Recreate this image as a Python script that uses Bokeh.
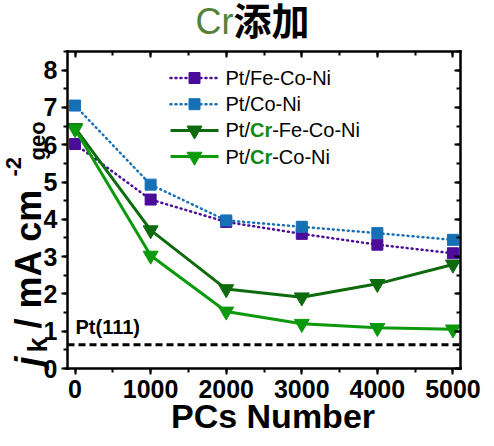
import math

from bokeh.plotting import figure
from bokeh.models import Range1d, LinearAxis, SingleIntervalTicker, Label
from bokeh.embed import file_html
from bokeh.resources import INLINE

# ---- data: kinetic current density vs. number of potential cycles ----
cycles = [0, 1000, 2000, 3000, 4000, 5000]
jk_fe_co_ni = [6.02, 4.53, 3.93, 3.61, 3.32, 3.09]
jk_co_ni = [7.05, 4.93, 3.97, 3.80, 3.63, 3.45]
jk_cr_fe_co_ni = [6.45, 3.71, 2.13, 1.91, 2.27, 2.79]
jk_cr_co_ni = [6.42, 3.03, 1.53, 1.20, 1.09, 1.05]
jk_pt111 = 0.64

series_names = ["Pt/Fe-Co-Ni", "Pt/Co-Ni", "Pt/Cr-Fe-Co-Ni", "Pt/Cr-Co-Ni"]

# axis limits of the plot box
X_MIN, X_MAX = -100, 5100
Y_MIN, Y_MAX = 0, 8.5

# ---- styling ----
PURPLE = "#4b0c9a"
BLUE = "#1570b6"
DARK_GREEN = "#0d6a0d"
LIGHT_GREEN = "#0c9a0c"
CR_GREEN = "#138a13"
TITLE_GREEN = "#548235"
SANS = "Liberation Sans"
TITLE_FONT = "Liberation Sans, Noto Sans CJK SC"

# canvas size and plot-box placement (pixels, from top-left)
W, H = 494, 446
BOX_L, BOX_R, BOX_T, BOX_B = 67, 460, 51, 368

# The frame covers the whole canvas; the ranges are stretched so the data box
# lands on BOX_*, and the axes are pinned to the box edges with fixed_location.
xpx = (BOX_R - BOX_L) / (X_MAX - X_MIN)
ypx = (BOX_B - BOX_T) / (Y_MAX - Y_MIN)
x_range = Range1d(X_MIN - BOX_L / xpx, X_MAX + (W - BOX_R) / xpx)
y_range = Range1d(Y_MIN - (H - BOX_B) / ypx, Y_MAX + BOX_T / ypx)

p = figure(width=W, height=H, output_backend="svg", toolbar_location=None,
           title=None, x_range=x_range, y_range=y_range, min_border=0)
p.grid.visible = False
p.background_fill_color = "white"
p.border_fill_color = "white"
p.outline_line_color = None

# pixel-space ranges (origin bottom-left of canvas) for the hand-built legend
p.extra_x_ranges = {"px": Range1d(0, W)}
p.extra_y_ranges = {"px": Range1d(0, H)}


def style_axis(ax, outside=True, labels=True):
    ax.axis_line_width = 2.5
    ax.axis_line_color = "black"
    ax.axis_line_cap = "square"
    ax.major_tick_line_width = 2
    ax.minor_tick_line_width = 2
    ax.major_tick_line_color = "black"
    ax.minor_tick_line_color = "black"
    if outside:
        ax.major_tick_out, ax.major_tick_in = 6, 0
        ax.minor_tick_out, ax.minor_tick_in = 4, 0
    else:
        ax.major_tick_out, ax.major_tick_in = 0, 6
        ax.minor_tick_out, ax.minor_tick_in = 0, 4
    ax.major_label_text_font = SANS
    ax.major_label_text_font_style = "bold"
    ax.major_label_text_font_size = "25px"
    ax.major_label_text_color = "black" if labels else None


xa = p.xaxis[0]
xa.ticker = SingleIntervalTicker(interval=1000, num_minor_ticks=2)
xa.fixed_location = Y_MIN
xa.bounds = (X_MIN, X_MAX)
style_axis(xa)
xa.major_label_standoff = 5

ya = p.yaxis[0]
ya.ticker = SingleIntervalTicker(interval=1, num_minor_ticks=2)
ya.fixed_location = X_MIN
ya.bounds = (Y_MIN, Y_MAX)
style_axis(ya)
ya.major_label_standoff = 4

# mirrored box edges: ticks only, pointing inwards
top_ax = LinearAxis(ticker=SingleIntervalTicker(interval=1000, num_minor_ticks=2),
                    fixed_location=Y_MAX, bounds=(X_MIN, X_MAX))
style_axis(top_ax, outside=False, labels=False)
p.add_layout(top_ax, "above")

right_ax = LinearAxis(ticker=SingleIntervalTicker(interval=1, num_minor_ticks=2),
                      fixed_location=X_MAX, bounds=(Y_MIN, Y_MAX))
style_axis(right_ax, outside=False, labels=False)
p.add_layout(right_ax, "right")


def canvas_label(cx, cy, text, **kw):
    """Label centred vertically on a canvas pixel position (top-left origin)."""
    opts = dict(text_font=SANS, text_color="black", text_baseline="middle")
    opts.update(kw)
    p.add_layout(Label(x=cx, y=H - cy, x_units="screen", y_units="screen",
                       text=text, **opts))


# ---- Pt(111) reference level ----
p.segment(x0=[X_MIN], x1=[X_MAX], y0=[jk_pt111], y1=[jk_pt111],
          line_color="black", line_width=3, line_dash="7 4")
canvas_label(75, 326, "Pt(111)", text_font_style="bold", text_font_size="20px")

# ---- series ----
series = [
    (series_names[0], jk_fe_co_ni, PURPLE, "square", 11, "dotted"),
    (series_names[1], jk_co_ni, BLUE, "square", 11, "dotted"),
    (series_names[2], jk_cr_fe_co_ni, DARK_GREEN, "inverted_triangle", 15, "solid"),
    (series_names[3], jk_cr_co_ni, LIGHT_GREEN, "inverted_triangle", 15, "solid"),
]


def draw_line(xs, ys, color, kind, **kw):
    if kind == "dotted":
        p.line(xs, ys, line_color=color, line_width=2.5, line_dash="1 4",
               line_cap="round", **kw)
    else:
        p.line(xs, ys, line_color=color, line_width=3, **kw)


for name, ys, color, marker, size, kind in series:
    draw_line(cycles, ys, color, kind)
    p.scatter(cycles, ys, marker=marker, size=size, fill_color=color,
              line_color=color, line_width=1)

# ---- legend ----
row0, row_step = 77.5, 26.2
for i, (name, ys, color, marker, size, kind) in enumerate(series):
    cy = row0 + row_step * i
    py = H - cy
    draw_line([170, 218], [py, py], color, kind, x_range_name="px", y_range_name="px")
    p.scatter([194], [py], marker=marker, size=size, fill_color=color, line_color=color,
              line_width=1, x_range_name="px", y_range_name="px")
    if "Cr" in name:
        pre, post = name.split("Cr")
        canvas_label(225, cy, pre, text_font_size="20px")
        canvas_label(249.5, cy, "Cr", text_font_size="20px", text_font_style="bold",
                     text_color=CR_GREEN)
        canvas_label(271.7, cy, post, text_font_size="20px")
    else:
        canvas_label(225, cy, name, text_font_size="20px")

# ---- title: "Cr添加" ----
canvas_label(233, 21, "Cr", text_align="right", text_font=SANS,
             text_font_size="36px", text_color=TITLE_GREEN)
canvas_label(233, 21, "添加", text_align="left", text_font=TITLE_FONT,
             text_font_style="bold", text_font_size="38px")

# ---- x axis title ----
canvas_label(272.5, 415.5, "PCs Number", text_align="center",
             text_font_style="bold", text_font_size="34px")

# ---- y axis title: j_k / mA cm^-2_geo, rotated and built from pieces ----
ROT = math.pi / 2
y_parts = [
    # text, start (canvas y), centre line (canvas x), style, size
    ("j", 366, 28, "bold italic", "36px"),
    ("k", 352, 37, "bold", "27px"),
    (" / mA cm", 328, 28, "bold", "36px"),
    ("-2", 176, 13, "bold", "22px"),
    ("geo", 160, 37, "bold", "22px"),
]
for txt, cy, cx, style, fs in y_parts:
    canvas_label(cx, cy, txt, angle=ROT, text_align="left",
                 text_font_style=style, text_font_size=fs)

open("out.html", "w").write(file_html(p, INLINE))
